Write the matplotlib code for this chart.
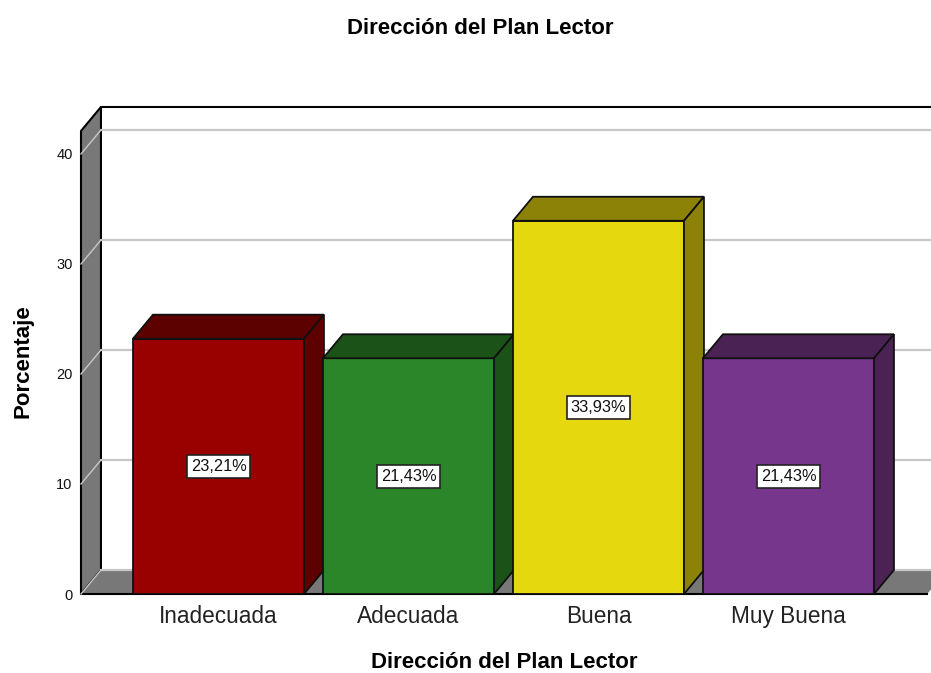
import matplotlib
matplotlib.use("Agg")
import matplotlib.pyplot as plt
from matplotlib.patches import Polygon

plt.rcParams['font.family'] = ['Liberation Sans', 'DejaVu Sans']

categories = ["Inadecuada", "Adecuada", "Buena", "Muy Buena"]
valores = [23.21, 21.43, 33.93, 21.43]
etiquetas = ["23,21%", "21,43%", "33,93%", "21,43%"]
y_ticks = [0, 10, 20, 30, 40]

colores = ["#990000", "#2A8629", "#E5D80F", "#76368B"]
oscuros = ["#5C0000", "#1B5218", "#8C8208", "#4A2354"]

bar_width = 0.9
dx = 0.105   # profondeur 3D
dy = 2.18
x_min, x_max = -0.7237, 3.75
y_max = 44.27
floor_end = 3.73
edge = "#101010"
wall = "#787878"
grid_col = "#C8C8C8"

fig = plt.figure(figsize=(9.31, 6.73), dpi=100)
ax = fig.add_axes([81 / 931, (673 - 594) / 673, 850 / 931, (594 - 107) / 673])
ax.set_xlim(x_min, x_max)
ax.set_ylim(0, y_max)
for s in ax.spines.values():
  s.set_visible(False)

# mur gauche et sol
ax.add_patch(Polygon([(x_min, 0), (x_min + dx, dy), (x_min + dx, y_max), (x_min, y_max - dy)],
                     facecolor=wall, edgecolor="black", linewidth=1.5, clip_on=False, zorder=1))
ax.add_patch(Polygon([(x_min, 0), (x_min + dx, dy), (floor_end + dx, dy), (floor_end, 0)],
                     facecolor=wall, edgecolor="none", clip_on=True, zorder=1))
ax.plot([x_min, floor_end], [0, 0], color="black", linewidth=1.5, clip_on=False, zorder=2)
ax.plot([x_min + dx, x_max], [y_max, y_max], color="black", linewidth=1.5, clip_on=False, zorder=2)

# grille
for t in y_ticks:
  ax.plot([x_min, x_min + dx], [t, t + dy], color=grid_col, linewidth=1, zorder=2, clip_on=False)
  ax.plot([x_min + dx, x_max], [t + dy, t + dy], color=grid_col, linewidth=1.6, zorder=2)

# barres
for i in range(len(categories)):
  v = valores[i]
  l = i - bar_width / 2
  r = i + bar_width / 2
  z = 3 + i
  ax.bar(i, v, width=bar_width, color=colores[i], edgecolor=edge, linewidth=1.3, zorder=z)
  ax.add_patch(Polygon([(l, v), (l + dx, v + dy), (r + dx, v + dy), (r, v)],
                       facecolor=oscuros[i], edgecolor=edge, linewidth=1.3, zorder=z))
  ax.add_patch(Polygon([(r, 0), (r + dx, dy), (r + dx, v + dy), (r, v)],
                       facecolor=oscuros[i], edgecolor=edge, linewidth=1.3, zorder=z))
  ax.text(i, v / 2, etiquetas[i], ha="center", va="center", fontsize=11.8, color="#111111", zorder=20,
          bbox=dict(boxstyle="square,pad=0.25", facecolor="white", edgecolor="#222222", linewidth=1.2))

ax.set_xticks(range(len(categories)), labels=categories)
ax.set_yticks(y_ticks)
ax.tick_params(axis='both', length=0)
ax.tick_params(axis='x', labelsize=16.3, pad=8, labelcolor="#222222")
ax.tick_params(axis='y', labelsize=10.5, pad=6, labelcolor="#111111")

ax.set_xlabel("Dirección del Plan Lector", fontsize=16, fontweight="bold", va="center")
ax.set_ylabel("Porcentaje", fontsize=16, fontweight="bold", va="center")
ax.xaxis.set_label_coords((504 - 81) / 850, (594 - 663) / 487, transform=ax.transAxes)
ax.yaxis.set_label_coords((23 - 81) / 850, (594 - 361) / 487, transform=ax.transAxes)

fig.text(480 / 931, 1 - 28 / 673, "Dirección del Plan Lector", ha="center", va="center",
         fontsize=16, fontweight="bold")

plt.savefig("out.png", dpi=100)
